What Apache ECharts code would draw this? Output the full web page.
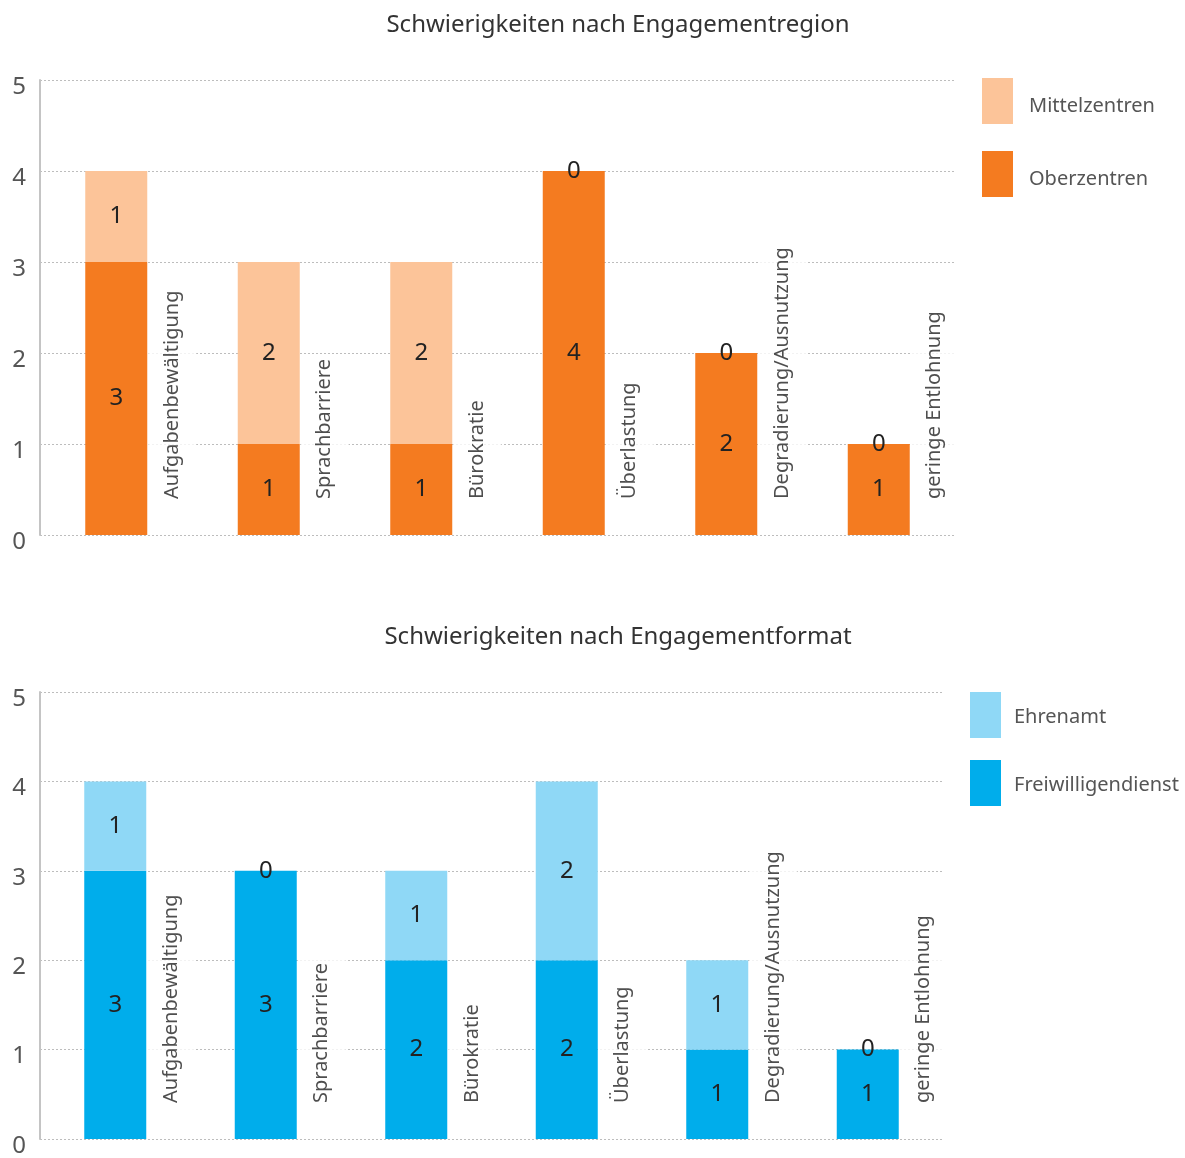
<!DOCTYPE html>
<html>
<head>
<meta charset="utf-8">
<script src="https://cdn.jsdelivr.net/npm/echarts@6/dist/echarts.min.js"></script>
<style>
  html, body { margin: 0; padding: 0; background: #fff; }
  #chart { width: 1185px; height: 1158px; }
</style>
</head>
<body>
<div id="chart"></div>
<script>
// Kategorien (gleich fuer beide Diagramme)
var categories = ['Aufgabenbewältigung', 'Sprachbarriere', 'Bürokratie', 'Überlastung', 'Degradierung/Ausnutzung', 'geringe Entlohnung'];

// oben: nach Engagementregion
var oberzentren = [3, 1, 1, 4, 2, 1];
var mittelzentren = [1, 2, 2, 0, 0, 0];

// unten: nach Engagementformat
var freiwilligendienst = [3, 3, 2, 2, 1, 1];
var ehrenamt = [1, 0, 1, 2, 1, 0];

var yTicks = [0, 1, 2, 3, 4, 5];

var FONT = 'Noto Sans';
var gridLine = { show: true, lineStyle: { color: '#bdbdbd', type: [2, 2], width: 1 } };

function xAxisFor(idx) {
  return {
    type: 'category', gridIndex: idx, data: categories,
    axisLine: { show: false }, axisTick: { show: false }, axisLabel: { show: false }
  };
}
function yAxisFor(idx) {
  return {
    type: 'value', gridIndex: idx, min: yTicks[0], max: yTicks[yTicks.length - 1], interval: 1,
    axisLine: { show: true, lineStyle: { color: '#c4c4c4', width: 2 } },
    axisTick: { show: false },
    splitLine: gridLine,
    // Zahlen etwas unterhalb der Linie, wie im Original
    axisLabel: { color: '#555', fontSize: 24, fontFamily: FONT, margin: 14, verticalAlign: 'top', lineHeight: 14 }
  };
}
function barSeries(name, data, color, idx) {
  return {
    name: name, type: 'bar', stack: 's' + idx, xAxisIndex: idx, yAxisIndex: idx,
    data: data, barWidth: 62, itemStyle: { color: color },
    label: { show: true, position: 'inside', color: '#222', fontSize: 24, fontFamily: FONT },
    z: 3
  };
}
// Kategorienamen senkrecht rechts neben den Balken
function catLabels(idx) {
  return {
    type: 'scatter', xAxisIndex: idx, yAxisIndex: idx, symbolSize: 0, silent: true,
    data: categories.map(function (c) { return [c, 0]; }),
    label: {
      show: true, position: 'inside', rotate: 90, align: 'left', verticalAlign: 'middle',
      offset: [24, 56],
      formatter: function (p) { return p.value[0]; },
      color: '#222', fontSize: 20, fontFamily: FONT,
      backgroundColor: '#fff', padding: [14, 4, 14, 12]
    },
    z: 2
  };
}
function legendFor(names, left, top, gap, shift, padLeft) {
  return {
    data: names, orient: 'vertical', left: left, top: top, padding: 0,
    itemWidth: 31, itemHeight: 46, itemGap: gap, icon: 'rect',
    formatter: '{t|{name}}',
    textStyle: {
      color: '#555', fontSize: 20, fontFamily: FONT,
      rich: { t: { color: '#555', fontSize: 20, fontFamily: FONT, padding: [shift, 0, 0, padLeft] } }
    }
  };
}

var chart = echarts.init(document.getElementById('chart'));
chart.setOption({
  animation: false,
  textStyle: { fontFamily: FONT },
  title: [
    { text: 'Schwierigkeiten nach Engagementregion', left: 613, top: 8, textAlign: 'center',
      textStyle: { color: '#333', fontSize: 24, fontWeight: 'normal', fontFamily: FONT } },
    { text: 'Schwierigkeiten nach Engagementformat', left: 613, top: 620, textAlign: 'center',
      textStyle: { color: '#333', fontSize: 24, fontWeight: 'normal', fontFamily: FONT } }
  ],
  legend: [
    legendFor(['Mittelzentren', 'Oberzentren'], 982, 78, 27, 10, 11),
    legendFor(['Ehrenamt', 'Freiwilligendienst'], 970, 692, 22, 5, 8)
  ],
  grid: [
    { left: 40, top: 80, width: 915, height: 455 },
    { left: 40, top: 692, width: 903, height: 451 }
  ],
  xAxis: [xAxisFor(0), xAxisFor(1)],
  yAxis: [yAxisFor(0), yAxisFor(1)],
  series: [
    barSeries('Oberzentren', oberzentren, '#f47b20', 0),
    barSeries('Mittelzentren', mittelzentren, '#fcc499', 0),
    catLabels(0),
    barSeries('Freiwilligendienst', freiwilligendienst, '#00adeb', 1),
    barSeries('Ehrenamt', ehrenamt, '#8fd8f6', 1),
    catLabels(1)
  ]
});
</script>
</body>
</html>
